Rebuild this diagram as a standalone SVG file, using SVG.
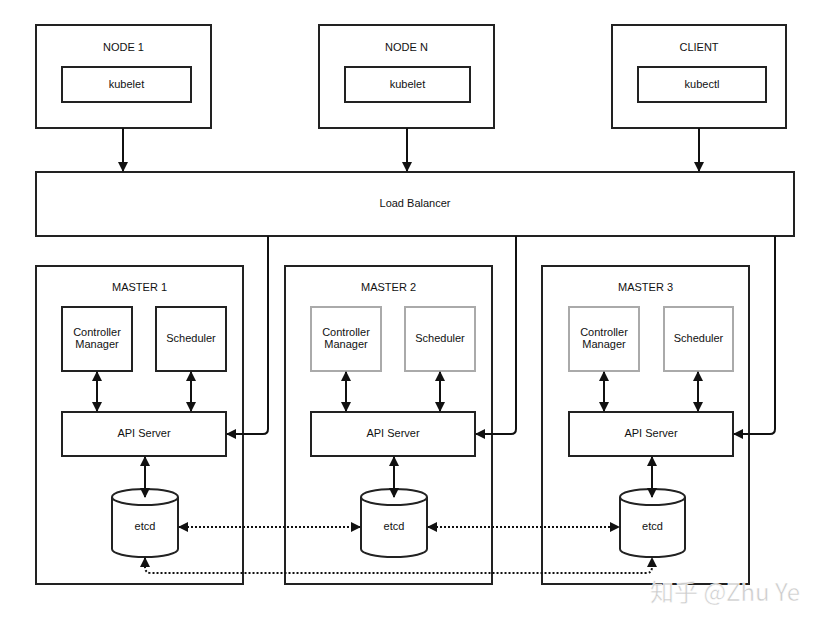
<svg xmlns="http://www.w3.org/2000/svg" width="830" height="624" viewBox="0 0 830 624">
<style>
.box{fill:#fff;stroke:#222;stroke-width:2}
.gbox{fill:#fff;stroke:#aaa;stroke-width:2}
.t{font-family:"Liberation Sans",Arial,sans-serif;font-size:11px;fill:#111;text-anchor:middle;dominant-baseline:middle}
.ln{fill:none;stroke:#111;stroke-width:2}
.dot{fill:none;stroke:#111;stroke-width:2;stroke-dasharray:2 2}
.wm{font-family:"Noto Sans CJK SC","Liberation Sans",sans-serif;font-size:24px;fill:#ccc;stroke:#fff;stroke-width:0.5}
</style>
<defs>
<marker id="a" viewBox="0 0 10 10" refX="9" refY="5" markerWidth="5" markerHeight="5" orient="auto-start-reverse">
<path d="M0,0L10,5L0,10z" fill="#111"/>
</marker>
</defs>
<rect width="830" height="624" fill="#fff"/>
<g id="node1"><rect class="box" x="36" y="25" width="175" height="103"/><text class="t" x="123.5" y="48">NODE 1</text><rect class="box" x="62" y="67" width="129" height="35"/><text class="t" x="126.5" y="85">kubelet</text></g>
<g id="nodeN"><rect class="box" x="319" y="25" width="175" height="103"/><text class="t" x="406.5" y="48">NODE N</text><rect class="box" x="345" y="67" width="125" height="35"/><text class="t" x="407.5" y="85">kubelet</text></g>
<g id="client"><rect class="box" x="612" y="25" width="174" height="103"/><text class="t" x="699" y="48">CLIENT</text><rect class="box" x="638" y="67" width="128" height="35"/><text class="t" x="702" y="85">kubectl</text></g>
<g id="lb"><rect class="box" x="36" y="172" width="758" height="64"/><text class="t" x="415" y="204">Load Balancer</text></g>
<g id="master1"><rect class="box" x="36" y="266" width="207" height="318"/><text class="t" x="139.5" y="288">MASTER 1</text>
<rect class="box" x="62" y="307" width="70" height="64"/><text class="t" x="97" y="333">Controller</text><text class="t" x="97" y="345">Manager</text>
<rect class="box" x="156" y="307" width="70" height="64"/><text class="t" x="191" y="339">Scheduler</text>
<rect class="box" x="62" y="412" width="164" height="44"/><text class="t" x="144" y="434">API Server</text>
<path class="box" d="M112,497v52a33,8 0 0 0 66,0v-52a33,8 0 0 0 -66,0a33,8 0 0 0 66,0"/><text class="t" x="145" y="527">etcd</text></g>
<g id="master2"><rect class="box" x="285" y="266" width="207" height="318"/><text class="t" x="388.5" y="288">MASTER 2</text>
<rect class="gbox" x="311" y="307" width="70" height="64"/><text class="t" x="346" y="333">Controller</text><text class="t" x="346" y="345">Manager</text>
<rect class="gbox" x="405" y="307" width="70" height="64"/><text class="t" x="440" y="339">Scheduler</text>
<rect class="box" x="311" y="412" width="164" height="44"/><text class="t" x="393" y="434">API Server</text>
<path class="box" d="M361,497v52a33,8 0 0 0 66,0v-52a33,8 0 0 0 -66,0a33,8 0 0 0 66,0"/><text class="t" x="394" y="527">etcd</text></g>
<g id="master3"><rect class="box" x="542" y="266" width="207" height="318"/><text class="t" x="645.5" y="288">MASTER 3</text>
<rect class="gbox" x="569" y="307" width="70" height="64"/><text class="t" x="604" y="333">Controller</text><text class="t" x="604" y="345">Manager</text>
<rect class="gbox" x="664" y="307" width="69" height="64"/><text class="t" x="698.5" y="339">Scheduler</text>
<rect class="box" x="569" y="412" width="164" height="44"/><text class="t" x="651" y="434">API Server</text>
<path class="box" d="M620,497v52a32.5,8 0 0 0 65,0v-52a32.5,8 0 0 0 -65,0a32.5,8 0 0 0 65,0"/><text class="t" x="652.5" y="527">etcd</text></g>
<g id="connectors">
<path class="ln" d="M123,128V171" marker-end="url(#a)"/>
<path class="ln" d="M407,128V171" marker-end="url(#a)"/>
<path class="ln" d="M699,128V171" marker-end="url(#a)"/>
<path class="ln" d="M268,236V429q0,5 -5,5H227" marker-end="url(#a)"/>
<path class="ln" d="M516,236V429q0,5 -5,5H476" marker-end="url(#a)"/>
<path class="ln" d="M775,236V429q0,5 -5,5H734" marker-end="url(#a)"/>
<path class="ln" d="M97,372V411" marker-start="url(#a)" marker-end="url(#a)"/>
<path class="ln" d="M191,372V411" marker-start="url(#a)" marker-end="url(#a)"/>
<path class="ln" d="M346,372V411" marker-start="url(#a)" marker-end="url(#a)"/>
<path class="ln" d="M440,372V411" marker-start="url(#a)" marker-end="url(#a)"/>
<path class="ln" d="M604,372V411" marker-start="url(#a)" marker-end="url(#a)"/>
<path class="ln" d="M698,372V411" marker-start="url(#a)" marker-end="url(#a)"/>
<path class="ln" d="M145,457V497" marker-start="url(#a)" marker-end="url(#a)"/>
<path class="ln" d="M394,457V497" marker-start="url(#a)" marker-end="url(#a)"/>
<path class="ln" d="M652,457V497" marker-start="url(#a)" marker-end="url(#a)"/>
<path class="dot" d="M179,527H360" marker-start="url(#a)" marker-end="url(#a)"/>
<path class="dot" d="M428,527H619" marker-start="url(#a)" marker-end="url(#a)"/>
<path class="dot" d="M145,558V567q0,6 6,6H646q6,0 6,-6V558" marker-start="url(#a)" marker-end="url(#a)"/>
</g>
<text class="wm" x="650" y="601">知乎 @Zhu Ye</text>
</svg>
